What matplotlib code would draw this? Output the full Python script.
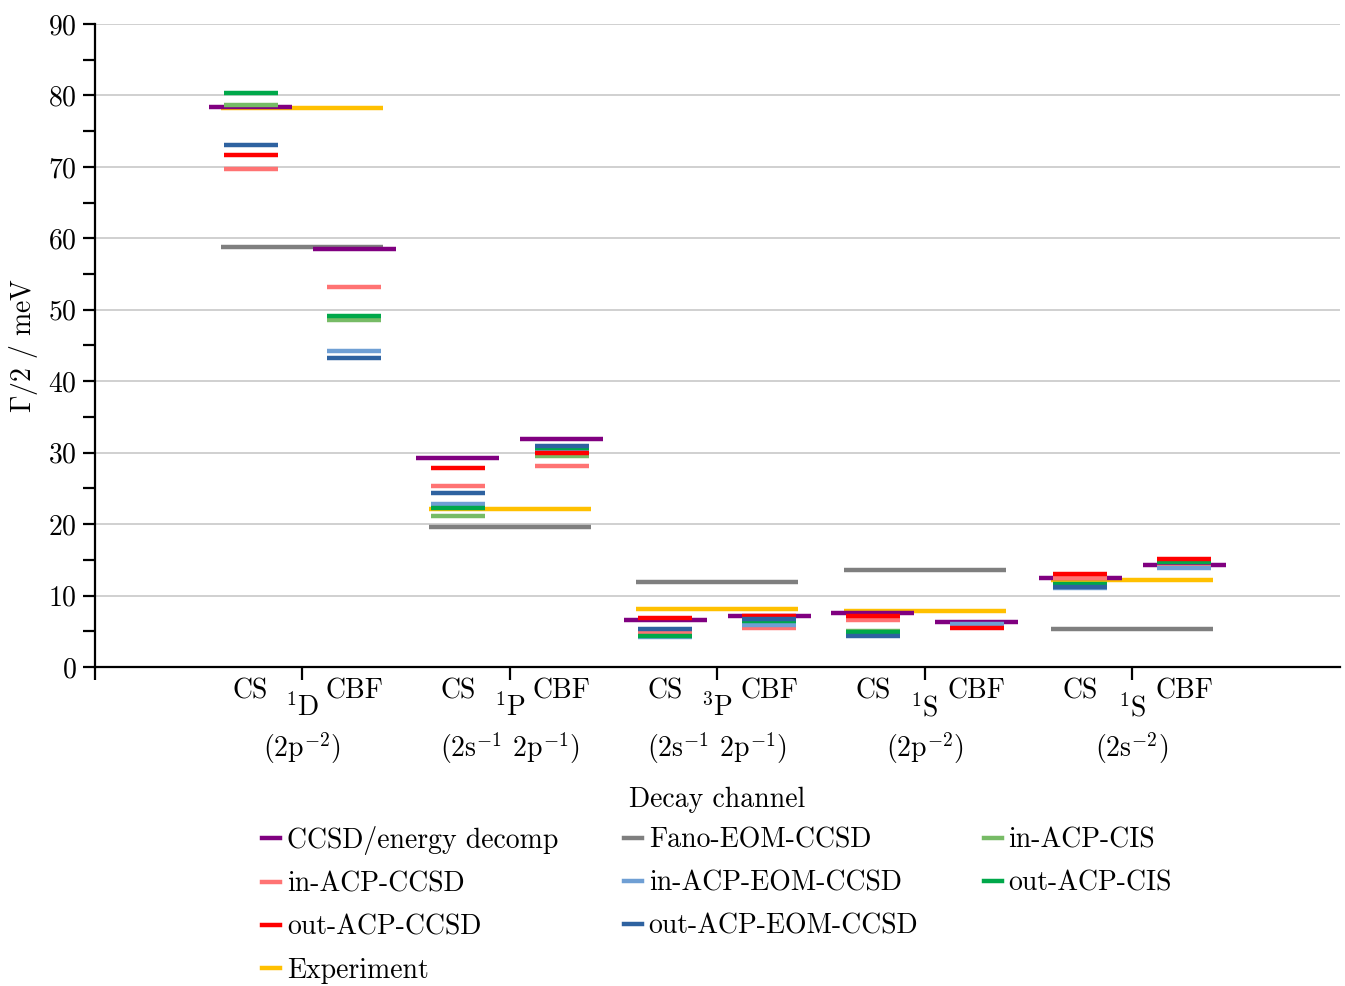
import numpy as np
import matplotlib
matplotlib.use("Agg")
import matplotlib.pyplot as plt
from matplotlib.lines import Line2D

plt.rcParams['font.family'] = 'serif'
plt.rcParams['font.serif'] = ['cmr10']
plt.rcParams['mathtext.fontset'] = 'cm'
plt.rcParams['axes.formatter.use_mathtext'] = True

nan = np.nan

# decay channels
symbols = [r'$^1$D', r'$^1$P', r'$^3$P', r'$^1$S', r'$^1$S']
configs = [r'(2p$^{-2}$)', r'(2s$^{-1}$ 2p$^{-1}$)', r'(2s$^{-1}$ 2p$^{-1}$)',
           r'(2p$^{-2}$)', r'(2s$^{-2}$)']

# Gamma/2 in meV, one value per channel (CS, CBF)
ccsd_cs = [78.4, 29.2, 6.6, 7.6, 12.4]
ccsd_cbf = [58.5, 31.9, 7.2, 6.3, 14.3]
fano = [58.8, 19.6, 11.9, 13.6, 5.3]
experiment = [78.2, 22.1, 8.1, 7.9, 12.2]

in_cis_cs = [78.6, 21.2, 4.6, 5.1, nan]
in_cis_cbf = [48.6, 29.5, 6.2, nan, nan]
in_ccsd_cs = [69.7, 25.3, 4.9, 6.6, 12.4]
in_ccsd_cbf = [53.2, 28.2, 5.5, 5.7, 14.0]
in_eom_cs = [nan, 22.8, 4.2, 4.6, 11.0]
in_eom_cbf = [44.2, 30.2, 5.9, 6.0, 13.8]
out_cis_cs = [80.4, 22.2, 4.4, 4.9, 11.6]
out_cis_cbf = [49.1, 30.6, 6.4, nan, 14.7]
out_ccsd_cs = [71.7, 27.9, 6.8, 7.1, 13.0]
out_ccsd_cbf = [nan, 29.9, 7.1, 5.4, 15.1]
out_eom_cs = [73.1, 24.4, 5.3, 4.4, 11.2]
out_eom_cbf = [43.2, 30.9, 6.7, nan, nan]

c_ccsd = '#800080'
c_fano = '#7f7f7f'
c_in_cis = '#77bb66'
c_in_ccsd = '#ff7373'
c_in_eom = '#6f9fd4'
c_out_cis = '#00a84a'
c_out_ccsd = '#ff0000'
c_out_eom = '#2e62a0'
c_exp = '#ffc000'

fig = plt.figure(figsize=(13.45, 9.86), dpi=100)
ax = fig.add_axes([0.0706, 0.3235, 0.9254, 0.6522])

x = np.arange(1, 6)
cs = x - 0.25
cbf = x + 0.25
lw = 3.2

# whole-channel references
ax.hlines(fano, x - 0.39, x + 0.39, color=c_fano, lw=lw, zorder=3)
ax.hlines(experiment, x - 0.39, x + 0.39, color=c_exp, lw=lw, zorder=3)
# wider CCSD marks
ax.hlines(ccsd_cs, cs - 0.2, cs + 0.2, color=c_ccsd, lw=lw, zorder=4)
ax.hlines(ccsd_cbf, cbf - 0.2, cbf + 0.2, color=c_ccsd, lw=lw, zorder=4)

w = 0.13
for vals_cs, vals_cbf, col in [(in_cis_cs, in_cis_cbf, c_in_cis),
                               (in_ccsd_cs, in_ccsd_cbf, c_in_ccsd),
                               (in_eom_cs, in_eom_cbf, c_in_eom),
                               (out_cis_cs, out_cis_cbf, c_out_cis),
                               (out_ccsd_cs, out_ccsd_cbf, c_out_ccsd),
                               (out_eom_cs, out_eom_cbf, c_out_eom)]:
    ax.hlines(vals_cs, cs - w, cs + w, color=col, lw=lw, zorder=5)
    ax.hlines(vals_cbf, cbf - w, cbf + w, color=col, lw=lw, zorder=5)

ax.set_xlim(0, 6)
ax.set_ylim(0, 90)
ax.set_yticks(np.arange(0, 91, 10))
ax.set_yticks(np.arange(5, 90, 10), minor=True)
ax.set_xticks([0, 1, 2, 3, 4, 5])
ax.set_xticklabels([])
ax.yaxis.grid(True, color='#c8c8c8', lw=1.2)
ax.set_axisbelow(True)
for s in ['top', 'right']:
    ax.spines[s].set_visible(False)
for s in ['left', 'bottom']:
    ax.spines[s].set_linewidth(1.6)
fs = 20
ax.tick_params(axis='both', which='both', direction='out', length=9, width=1.6,
               labelsize=fs)
ax.tick_params(axis='y', pad=4)

tr = ax.get_xaxis_transform()
for i in range(5):
    ax.text(cs[i], -0.038, 'CS', transform=tr, ha='center', va='center', fontsize=fs)
    ax.text(cbf[i], -0.038, 'CBF', transform=tr, ha='center', va='center', fontsize=fs)
    ax.text(x[i], -0.064, symbols[i], transform=tr, ha='center', va='center', fontsize=fs)
    ax.text(x[i], -0.126, configs[i], transform=tr, ha='center', va='center', fontsize=fs)
ax.text(3, -0.206, 'Decay channel', transform=tr, ha='center', va='center', fontsize=fs)
ax.set_ylabel(r'$\Gamma/2$ / meV', fontsize=fs, labelpad=6)

def h(c):
    return Line2D([], [], color=c, lw=lw)

handles = [h(c_ccsd), h(c_in_ccsd), h(c_out_ccsd), h(c_exp),
           h(c_fano), h(c_in_eom), h(c_out_eom),
           h(c_in_cis), h(c_out_cis), Line2D([], [], color='none')]
labels = ['CCSD/energy decomp', 'in-ACP-CCSD', 'out-ACP-CCSD', 'Experiment',
          'Fano-EOM-CCSD', 'in-ACP-EOM-CCSD', 'out-ACP-EOM-CCSD',
          'in-ACP-CIS', 'out-ACP-CIS', '']
fig.legend(handles, labels, ncol=3, loc='upper left',
           bbox_to_anchor=(0.1948, 0.1623), frameon=False, fontsize=fs,
           handlelength=0.65, handletextpad=0.25, columnspacing=2.35,
           labelspacing=0.6, borderaxespad=0, borderpad=0)

fig.savefig('out.png', dpi=100)
